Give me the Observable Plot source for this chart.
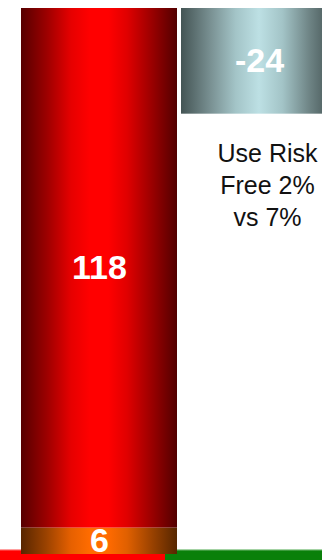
<!DOCTYPE html>
<html>
<head>
<meta charset="utf-8">
<script src="https://cdn.jsdelivr.net/npm/d3@7"></script>
<script src="https://cdn.jsdelivr.net/npm/@observablehq/plot@0.6"></script>
<style>
  html, body { margin: 0; padding: 0; background: #fff; }
  #chart { position: relative; width: 322px; height: 560px; overflow: hidden; font-family: "Liberation Sans", Arial, sans-serif; }
  #chart svg { position: absolute; left: 0; top: 0; }
  .band { position: absolute; left: 0; bottom: 0; width: 322px; height: 11px; display: flex; }
  .band .neg { width: 165px; background: linear-gradient(to bottom, #ffd6d6 0, #ff0000 2px); }
  .band .pos { flex: 1; background: linear-gradient(to bottom, #d8efd8 0, #0a800a 2px); }
</style>
</head>
<body>
<div id="chart">
  <div class="band"><div class="neg"></div><div class="pos"></div></div>
</div>
<script>
// Waterfall columns and the segments stacked in them
const columns = ["Current", "Risk free"];
const segmentColumn = ["Current", "Current", "Risk free"];
const segmentValues = [6, 118, -24];
const segmentLabels = ["6", "118", "-24"];
const segmentShade = ["orange", "red", "steel"];
const noteText = "Use Risk\nFree 2%\nvs 7%";

// Cylinder-style horizontal shading for each bar colour
const shadeStops = {
  red: [[0, "#560000"], [0.16, "#9a0000"], [0.32, "#e60000"], [0.44, "#ff0000"], [0.56, "#ff0000"], [0.68, "#e00000"], [0.84, "#9a0000"], [1, "#520000"]],
  orange: [[0, "#582600"], [0.16, "#9a4200"], [0.32, "#e66000"], [0.44, "#ff6c00"], [0.56, "#ff6a00"], [0.68, "#e06000"], [0.84, "#9a4200"], [1, "#562600"]],
  steel: [[0, "#445454"], [0.2, "#7c9496"], [0.35, "#a3c4c7"], [0.5, "#bde0e4"], [0.65, "#a3c4c7"], [0.82, "#6f8586"], [1, "#3c4a4a"]]
};

// Running totals: each segment starts where the previous one ended
let total = 0;
const rows = segmentValues.map((v, i) => {
  const y1 = total;
  total += v;
  return {
    column: segmentColumn[i],
    y1, y2: total,
    label: segmentLabels[i],
    fill: `url(#shade-${segmentShade[i]})`
  };
});
const last = rows[rows.length - 1];

function shades() {
  const defs = d3.create("svg:defs");
  for (const [name, stops] of Object.entries(shadeStops)) {
    const g = defs.append("linearGradient")
      .attr("id", `shade-${name}`)
      .attr("x1", 0).attr("x2", 1).attr("y1", 0).attr("y2", 0);
    for (const [offset, color] of stops) {
      g.append("stop").attr("offset", offset).attr("stop-color", color);
    }
  }
  return defs.node();
}

const chart = Plot.plot({
  width: 322,
  height: 560,
  marginTop: 8,
  marginBottom: 6,
  marginLeft: 0,
  marginRight: 0,
  style: { background: "transparent", fontFamily: "'Liberation Sans', Arial, sans-serif" },
  x: { domain: columns, range: [21, 337], paddingInner: 0.025, paddingOuter: 0, axis: null },
  y: { domain: [0, d3.max(rows, d => Math.max(d.y1, d.y2))], axis: null },
  color: { type: "identity" },
  marks: [
    shades,
    Plot.rectY(rows, { x: "column", y1: "y1", y2: "y2", fill: "fill", inset: 0 }),
    Plot.text(rows, {
      x: "column",
      y: d => (d.y1 + d.y2) / 2,
      text: "label",
      fill: "white",
      fontSize: 34,
      fontWeight: "bold"
    }),
    Plot.text([last], {
      x: "column",
      y: "y2",
      text: () => noteText,
      dx: 8,
      dy: 25,
      lineAnchor: "top",
      lineHeight: 1.28,
      fontSize: 25,
      fill: "#111"
    })
  ]
});

document.getElementById("chart").appendChild(chart);
</script>
</body>
</html>
